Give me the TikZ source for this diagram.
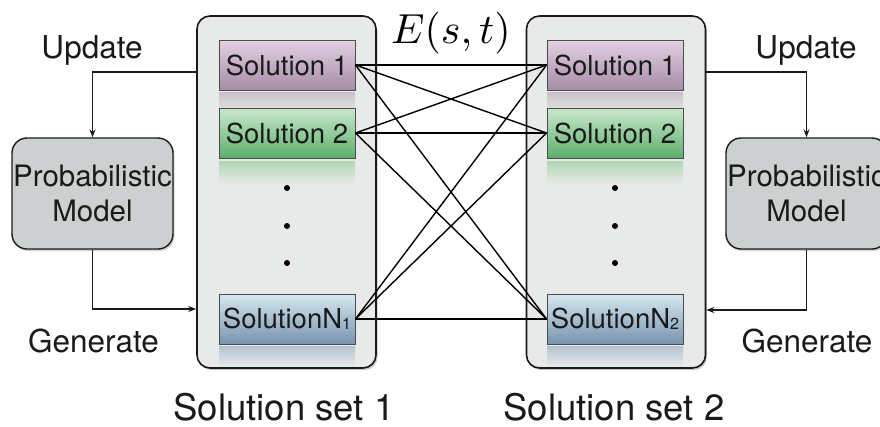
\documentclass[tikz,border=0pt]{standalone}
\usepackage{fontspec}
\setmainfont{TeX Gyre Heros}
\usetikzlibrary{shadows,arrows.meta}

\definecolor{setfill}{HTML}{E8E9E9}
\definecolor{modelfill}{HTML}{CDD0D0}
\definecolor{edgecol}{HTML}{1A1A1A}

\tikzset{
  setbox/.style={rounded corners=13pt, draw=edgecol, line width=1.6pt, fill=setfill,
    minimum width=179pt, minimum height=352pt, inner sep=0pt,
    drop shadow={shadow xshift=1.5pt, shadow yshift=-2pt, opacity=0.45}},
  solbox/.style={draw=black!70, line width=0.9pt, minimum width=136pt, minimum height=50pt,
    inner sep=0pt, font=\fontsize{27.5}{27.5}\selectfont, text=edgecol},
  solA/.style={solbox, top color={rgb,255:red,227;green,208;blue,227}, bottom color={rgb,255:red,166;green,140;blue,166}},
  solB/.style={solbox, top color={rgb,255:red,201;green,232;blue,204}, bottom color={rgb,255:red,93;green,174;blue,108}},
  solC/.style={solbox, top color={rgb,255:red,214;green,232;blue,240}, bottom color={rgb,255:red,120;green,147;blue,175}},
  modelbox/.style={rounded corners=15pt, draw=edgecol, line width=1.4pt, fill=modelfill,
    minimum width=161pt, minimum height=111pt, align=center, inner sep=0pt,
    font=\fontsize{29.5}{35}\selectfont, text=edgecol,
    drop shadow={shadow xshift=1.5pt, shadow yshift=-2pt, opacity=0.35}},
  lbl/.style={font=\fontsize{31.5}{31.5}\selectfont, text=edgecol, anchor=base, inner sep=0pt},
  setlbl/.style={font=\fontsize{36.5}{36.5}\selectfont, text=edgecol, anchor=base, inner sep=0pt},
  flow/.style={draw=edgecol, line width=1.1pt},
  flowarrow/.style={flow, -{Stealth[length=8pt,width=6pt]}},
  link/.style={draw=black, line width=1.4pt},
  dotmark/.style={circle, fill=black, inner sep=0pt, minimum size=6pt},
}

\newcommand{\subn}[1]{\raisebox{-1pt}{\fontsize{16}{16}\selectfont #1}}

\begin{document}
\begin{tikzpicture}[x=1pt, y=-1pt]
\useasboundingbox (0,0) rectangle (880,426);

% the two solution sets
\node[setbox] (lset) at (286.5,192) {};
\node[setbox] (rset) at (616,192) {};

% faded reflections under the solution boxes
\foreach \cx in {287,615} {
  \shade[top color={rgb,255:red,200;green,194;blue,200}, bottom color={rgb,255:red,222;green,220;blue,222}]
    (\cx-68,92) rectangle (\cx+68,107);
  \shade[top color={rgb,255:red,176;green,214;blue,181}, bottom color=setfill]
    (\cx-68,161) rectangle (\cx+68,184);
  \shade[top color={rgb,255:red,178;green,196;blue,210}, bottom color=setfill]
    (\cx-68,346) rectangle (\cx+68,366);
}

% solutions of set 1
\node[solA] (l1) at (287,65)  {Solution 1};
\node[solB] (l2) at (287,133) {Solution 2};
\node[solC] (lN) at (287,319) {SolutionN\subn{1}};
% solutions of set 2
\node[solA] (r1) at (615,65)  {Solution 1};
\node[solB] (r2) at (615,133) {Solution 2};
\node[solC] (rN) at (615,319) {SolutionN\subn{2}};

% ellipsis dots
\foreach \cx/\s in {287/l,615/r} {
  \node[dotmark] (\s d1) at (\cx,188) {};
  \node[dotmark] (\s d2) at (\cx,226) {};
  \node[dotmark] (\s d3) at (\cx,263) {};
}

% pairwise links between the two sets
\foreach \a in {l1,l2,lN} {
  \foreach \b in {r1,r2,rN} {
    \draw[link] (\a.east) -- (\b.west);
  }
}

\node[anchor=base, inner sep=0pt] (energy) at (451,43) {\scalebox{4.2}{$E(s,t)$}};

% probabilistic models
\node[modelbox] (lmodel) at (92.5,193.5) {Probabilistic\\Model};
\node[modelbox] (rmodel) at (806.5,193.5) {Probabilistic\\Model};

% update / generate loops
\draw[flowarrow] (lset.west |- 0,72) -| (lmodel.north);
\draw[flowarrow] (lmodel.south) |- (lset.west |- 0,309);
\draw[flowarrow] (rset.east |- 0,72) -| (rmodel.north);
\draw[flowarrow] (rmodel.south) |- (rset.east |- 0,310);

\node[lbl] (lupd) at (92,58) {Update};
\node[lbl] (rupd) at (806,58) {Update};
\node[lbl] (lgen) at (93.5,352) {Generate};
\node[lbl] (rgen) at (807,352) {Generate};

\node[setlbl] (lname) at (284,420) {Solution set 1};
\node[setlbl] (rname) at (614,420) {Solution set 2};
\end{tikzpicture}
\end{document}
